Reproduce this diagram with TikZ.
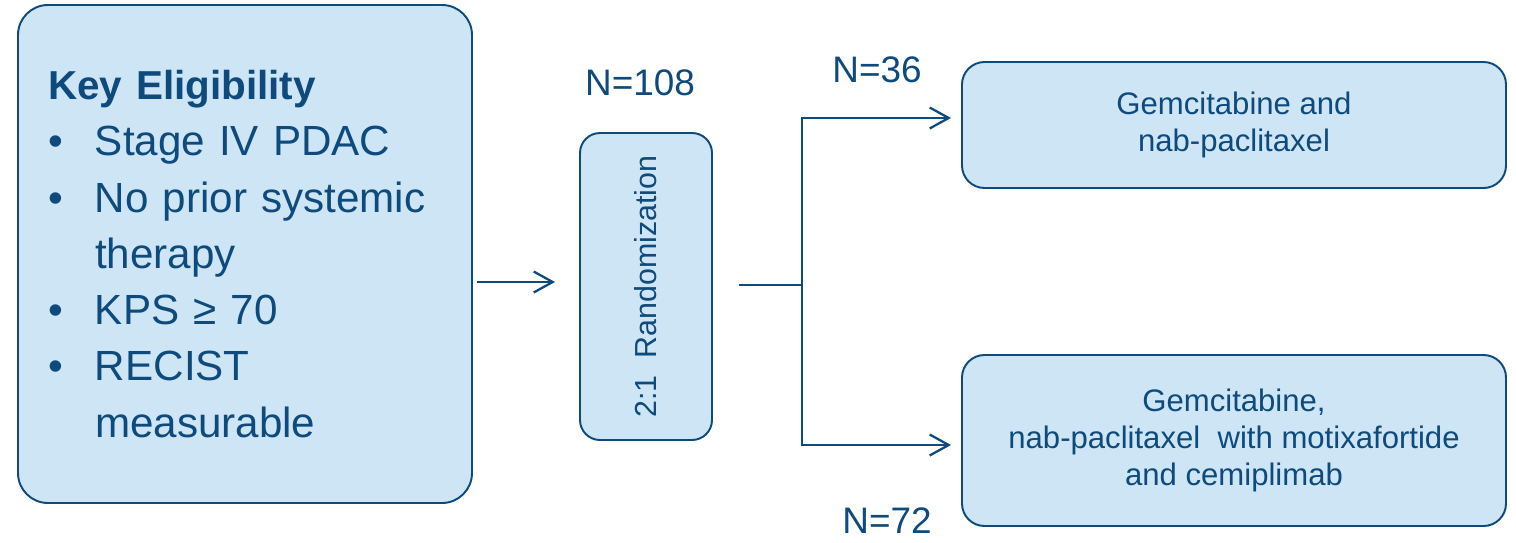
\documentclass[tikz,border=0pt]{standalone}
\usepackage{fontspec}
\setmainfont{Liberation Sans}
\usepackage{xcolor}
\usetikzlibrary{calc,arrows.meta}
\definecolor{navy}{HTML}{0E4A7B}
\definecolor{paleblue}{HTML}{CDE5F5}
\newcommand{\bitem}{\makebox[0.94cm][l]{\textbullet}}
\newcommand{\bcont}{\makebox[0.94cm][l]{}}

\begin{document}
\begin{tikzpicture}[box/.style={draw=navy, fill=paleblue, line width=1.1pt, text=navy},
	link/.style={draw=navy, line width=1.3pt},
	arr/.style={link, -{Straight Barb[length=0.38cm, width=0.42cm, line width=1.3pt]}},
	lbl/.style={text=navy, font=\fontsize{21}{25}\selectfont, inner sep=0pt}]

\useasboundingbox (0,0) rectangle (30.32,10.84);

% Eligibility box
\node[box, rounded corners=0.6cm, minimum width=9.08cm, minimum height=9.96cm, text width=7.88cm, inner xsep=0.6cm, align=left, font=\fontsize{24}{32}\selectfont] (elig) at (4.90,5.76)
	{{\fontsize{23}{32}\selectfont\bfseries Key Eligibility}\\ \bitem Stage IV PDAC\\ \bitem No prior systemic\\ \bcont therapy\\ \bitem KPS ≥ 70\\ \bitem RECIST\\ \bcont measurable};

% Randomization
\node[box, rounded corners=0.4cm, minimum width=2.64cm, minimum height=6.14cm] (rand) at (12.92,5.11) {};
\node[rotate=90, text=navy, font=\fontsize{17.3}{21}\selectfont] (randtxt) at (rand.center) {2:1\ \ Randomization};
\node[lbl] (n108) at (12.80,9.18) {N=108};

% Treatment arms
\node[box, rounded corners=0.45cm, minimum width=10.88cm, minimum height=2.52cm, align=center, font=\fontsize{17.7}{21.3}\selectfont] (top) at (24.68,8.34)
	{Gemcitabine and\\nab-paclitaxel};
\node[box, rounded corners=0.45cm, minimum width=10.88cm, minimum height=3.42cm, align=center, font=\fontsize{17.7}{21.3}\selectfont] (bot) at (24.68,2.03)
	{Gemcitabine,\\nab-paclitaxel\ \ with motixafortide\\and cemiplimab};
\node[lbl] (n36) at (17.54,9.44) {N=36};
\node[lbl] (n72) at (17.74,0.42) {N=72};

% Connections
\coordinate (split) at (16.04,5.14);
\draw[arr, shorten <=0.08cm, shorten >=0.48cm] (elig.east |- 0,5.20) -- (rand.west |- 0,5.20);
\draw[link, shorten <=0.52cm] (rand.east |- split) -- (split);
\draw[arr, shorten >=0.2cm] (split) |- ($(top.west)+(0,0.14)$);
\draw[arr, shorten >=0.2cm] (split) |- ($(bot.west)+(0,-0.09)$);
\end{tikzpicture}
\end{document}
